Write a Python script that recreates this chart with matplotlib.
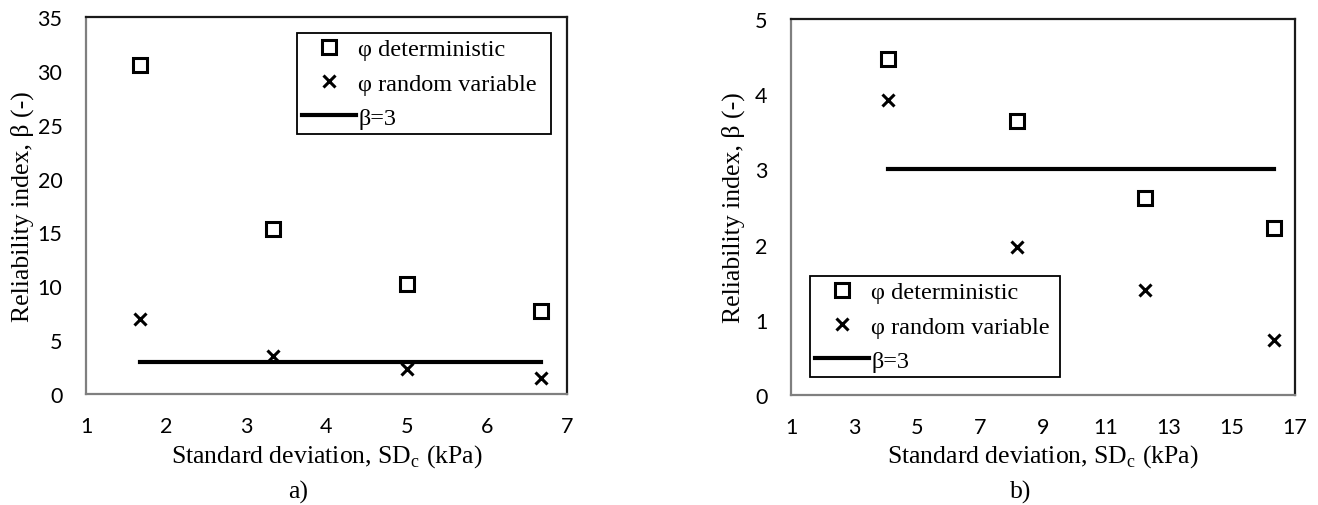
import matplotlib
matplotlib.use("Agg")
import matplotlib.pyplot as plt

# Panel a)
sd_a = [1.67, 3.33, 5.0, 6.67]
beta_det_a = [30.5, 15.3, 10.2, 7.7]
beta_rv_a = [7.0, 3.5, 2.3, 1.5]
# Panel b)
sd_b = [4.08, 8.16, 12.24, 16.32]
beta_det_b = [4.47, 3.65, 2.62, 2.22]
beta_rv_b = [3.92, 1.97, 1.40, 0.73]
beta_target = 3

xticks_a = [1, 2, 3, 4, 5, 6, 7]
yticks_a = [0, 5, 10, 15, 20, 25, 30, 35]
xticks_b = [1, 3, 5, 7, 9, 11, 13, 15, 17]
yticks_b = [0, 1, 2, 3, 4, 5]

serif = "Liberation Serif"
tickfont = "Lato"
W, H = 1318, 506

fig = plt.figure(figsize=(W / 100, H / 100), dpi=100)

def px_axes(x0, y0, x1, y1):
    return fig.add_axes([x0 / W, 1 - y1 / H, (x1 - x0) / W, (y1 - y0) / H])

axa = px_axes(86, 18, 567, 395)
axb = px_axes(791, 20, 1295, 396)

def draw(ax, sd, det, rv, xt, yt):
    ax.plot(sd, det, linestyle="none", marker="s", markersize=10, markerfacecolor="white",
            markeredgecolor="black", markeredgewidth=2.2, label="φ deterministic", zorder=3)
    ax.plot(sd, rv, linestyle="none", marker="x", markersize=9, color="black",
            markeredgewidth=2.2, label="φ random variable", zorder=3)
    ax.plot([sd[0], sd[-1]], [beta_target, beta_target], color="black", linewidth=3,
            label="β=3", zorder=2)
    ax.set_xlim(xt[0], xt[-1])
    ax.set_ylim(yt[0], yt[-1])
    ax.set_xticks(xt)
    ax.set_yticks(yt)
    ax.tick_params(length=0, labelsize=15.5)
    ax.tick_params(axis="x", pad=16)
    ax.tick_params(axis="y", pad=17)
    for lab in ax.get_xticklabels() + ax.get_yticklabels():
        lab.set_fontfamily(tickfont)
    for name, s in ax.spines.items():
        s.set_linewidth(1.6)
        s.set_color("#7f7f7f" if name in ("left", "bottom") else "#1a1a1a")
    ax.set_xlabel("Standard deviation, SD$_\\mathregular{c}$ (kPa)", fontfamily=serif, fontsize=18.5)
    ax.set_ylabel("Reliability index, β (-)", fontfamily=serif, fontsize=18.5)
    return ax

draw(axa, sd_a, beta_det_a, beta_rv_a, xticks_a, yticks_a)
draw(axb, sd_b, beta_det_b, beta_rv_b, xticks_b, yticks_b)

for ax, ylx in [(axa, 22), (axb, 733)]:
    bb = ax.get_position()
    ax.xaxis.set_label_coords((bb.x0 + bb.x1) / 2, 1 - 457 / H, transform=fig.transFigure)
    ax.xaxis.label.set_va("center")
    ax.yaxis.set_label_coords(ylx / W, (bb.y0 + bb.y1) / 2, transform=fig.transFigure)
    ax.yaxis.label.set_va("center")

for ax, (x0, y0, x1, y1) in [(axa, (297, 34, 551, 134)), (axb, (810, 277, 1060, 379))]:
    leg = ax.legend(loc="upper left",
                    bbox_to_anchor=(x0 / W, 1 - y1 / H, (x1 - x0) / W, (y1 - y0) / H),
                    bbox_transform=fig.transFigure, mode="expand",
                    frameon=True, fancybox=False, edgecolor="black", framealpha=1,
                    prop={"family": serif, "size": 17.5}, handlelength=2.2,
                    handletextpad=0.1, borderpad=0.22, labelspacing=0.5, borderaxespad=0)
    leg.get_frame().set_linewidth(1.3)

fig.text(298 / W, 1 - 492 / H, "a)", ha="center", va="center", fontfamily=serif, fontsize=18.5)
fig.text(1021 / W, 1 - 492 / H, "b)", ha="center", va="center", fontfamily=serif, fontsize=18.5)

fig.savefig("out.png", dpi=100)
